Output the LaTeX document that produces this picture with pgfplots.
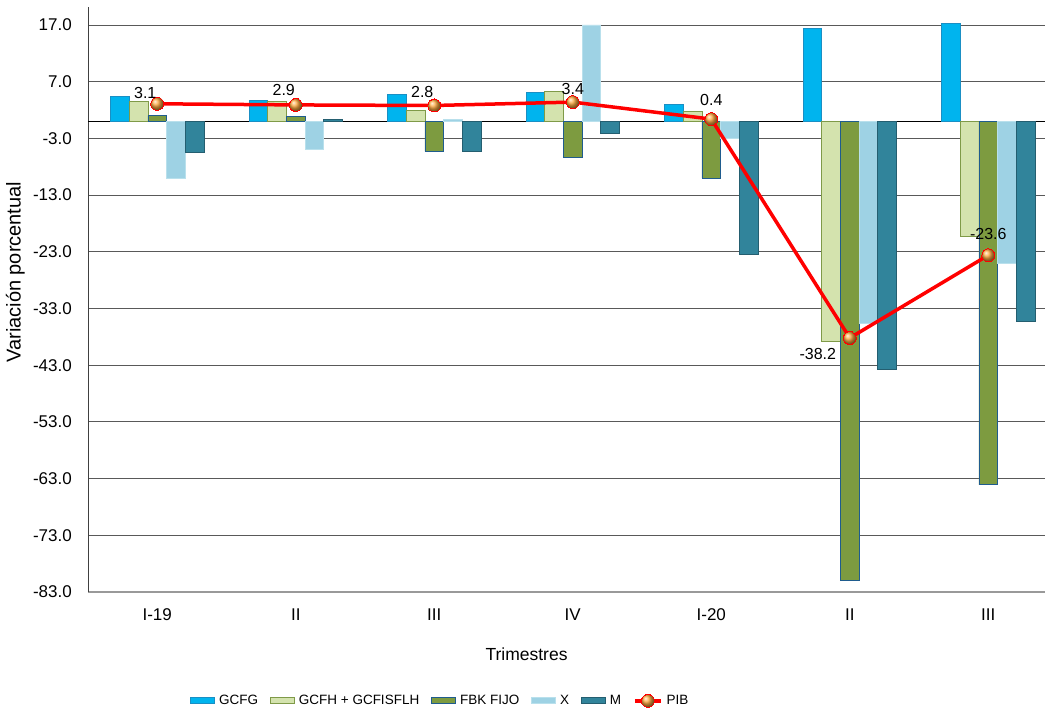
\documentclass[border=0pt]{standalone}
\usepackage{fontspec}
\setmainfont{Liberation Sans}
\usepackage{pgfplots}
\usepackage{pgfplotstable}
\pgfplotsset{compat=1.18}

\definecolor{cgcfg}{HTML}{00B4EE}
\definecolor{cgcfgd}{HTML}{1A8FC4}
\definecolor{cgcfh}{HTML}{D4E3AE}
\definecolor{cgcfhd}{HTML}{7F9A48}
\definecolor{cfbk}{HTML}{7D9B40}
\definecolor{cfbkd}{HTML}{1F5C8E}
\definecolor{cx}{HTML}{9ED2E4}
\definecolor{cxd}{HTML}{B9E0EC}
\definecolor{cm}{HTML}{31849B}
\definecolor{cmd}{HTML}{245E70}
\definecolor{cpib}{HTML}{FF0000}
\definecolor{cdot}{HTML}{FFAA40}

% variacion porcentual por trimestre
\pgfplotstableread{
x gcfg gcfh fbk xx m pib
0 4.4 3.5 1.0 -10.0 -5.5 3.1
1 3.7 3.5 0.85 -5.0 0.4 2.9
2 4.7 2.0 -5.3 0.3 -5.3 2.8
3 5.1 5.3 -6.4 17.0 -2.1 3.4
4 3.0 1.7 -10.0 -3.0 -23.4 0.4
5 16.4 -38.8 -81.0 -35.6 -43.7 -38.2
6 17.3 -20.3 -64.1 -25.0 -35.2 -23.6
}\datatable

% etiquetas del PIB (desplazamiento en pt)
\pgfplotstableread{
x y dx dy
0 3.1 -12 11
1 2.9 -12 15
2 2.8 -12 13
3 3.4 0 13
4 0.4 0 19
5 -38.2 -32 -16
6 -23.6 0 21
}\labtable

\pgfplotsset{
    barlegend/.style={legend image code/.code={
        \draw[##1] (0pt,-3pt) rectangle (24pt,3pt);}},
    pibleg/.style={legend image code/.code={
        \draw[mark repeat=2, mark phase=2, ##1] plot coordinates {(0pt,0pt) (13pt,0pt) (26pt,0pt)};}},
}

\begin{document}
\begin{tikzpicture}
\useasboundingbox (0,0) rectangle (1045pt,709pt);
\begin{axis}[
    at={(88pt,117pt)}, anchor=south west,
    scale only axis,
    width=957.5pt, height=584.7pt,
    xmin=-0.5, xmax=6.413,
    ymin=-83, ymax=20.12,
    xtick={0,...,6},
    xticklabels={I-19,II,III,IV,I-20,II,III},
    ytick={-83,-73,...,17},
    /pgf/number format/fixed,
    /pgf/number format/fixed zerofill,
    /pgf/number format/precision=1,
    /pgf/number format/assume math mode=true,
    y tick label style={anchor=east, inner sep=0pt, xshift=-16pt, font=\fontsize{17}{17}\selectfont},
    x tick label style={anchor=center, yshift=-23pt, font=\fontsize{17}{17}\selectfont},
    major tick length=0pt,
    axis x line*=bottom, axis y line*=left,
    x axis line style={black!40, line width=1.8pt},
    y axis line style={black!75, line width=0.9pt},
    ymajorgrids,
    grid style={black!65, line width=0.9pt},
    extra y ticks={0},
    extra y tick labels={},
    extra y tick style={grid style={black, line width=1.4pt}},
    xlabel={Trimestres},
    xlabel style={at={(axis description cs:0.458,-0.106)}, anchor=center, font=\fontsize{17.5}{17.5}\selectfont},
    ylabel={Variación porcentual},
    ylabel style={at={(axis description cs:-0.076,0.547)}, anchor=center, font=\fontsize{20}{20}\selectfont},
    legend columns=6,
    legend style={draw=none, fill=none, at={(axis description cs:0.368,-0.186)}, anchor=center,
        font=\fontsize{13.5}{13.5}\selectfont, inner sep=0pt,
        /tikz/every odd column/.append style={column sep=2pt},
        /tikz/every even column/.append style={column sep=10pt}},
    clip=false,
]
\addplot[ybar, bar width=18.7pt, bar shift=-37.4pt, fill=cgcfg, draw=cgcfgd, line width=0.8pt, barlegend]
    table[x=x, y=gcfg] {\datatable};
\addplot[ybar, bar width=18.7pt, bar shift=-18.7pt, fill=cgcfh, draw=cgcfhd, line width=0.8pt, barlegend]
    table[x=x, y=gcfh] {\datatable};
\addplot[ybar, bar width=18.7pt, bar shift=0pt, fill=cfbk, draw=cfbkd, line width=0.8pt, barlegend]
    table[x=x, y=fbk] {\datatable};
\addplot[ybar, bar width=18.7pt, bar shift=18.7pt, fill=cx, draw=cxd, line width=0.8pt, barlegend]
    table[x=x, y=xx] {\datatable};
\addplot[ybar, bar width=18.7pt, bar shift=37.4pt, fill=cm, draw=cmd, line width=0.8pt, barlegend]
    table[x=x, y=m] {\datatable};
\addplot[cpib, line width=3.5pt, mark=ball, mark size=6.5pt,
    mark options={ball color=cdot, draw=none, line width=0pt}, pibleg]
    table[x=x, y=pib] {\datatable};
\addplot[draw=none, mark=none, forget plot, nodes near coords,
    point meta=explicit symbolic,
    visualization depends on={\thisrow{dx} \as \dx},
    visualization depends on={\thisrow{dy} \as \dy},
    every node near coord/.append style={anchor=center, xshift=\dx pt, yshift=\dy pt,
        font=\fontsize{16}{16}\selectfont, text=black}]
    table[x=x, y=y, meta=y] {\labtable};
\legend{GCFG, GCFH + GCFISFLH, FBK FIJO, X, M, PIB}
\end{axis}
\end{tikzpicture}
\end{document}
